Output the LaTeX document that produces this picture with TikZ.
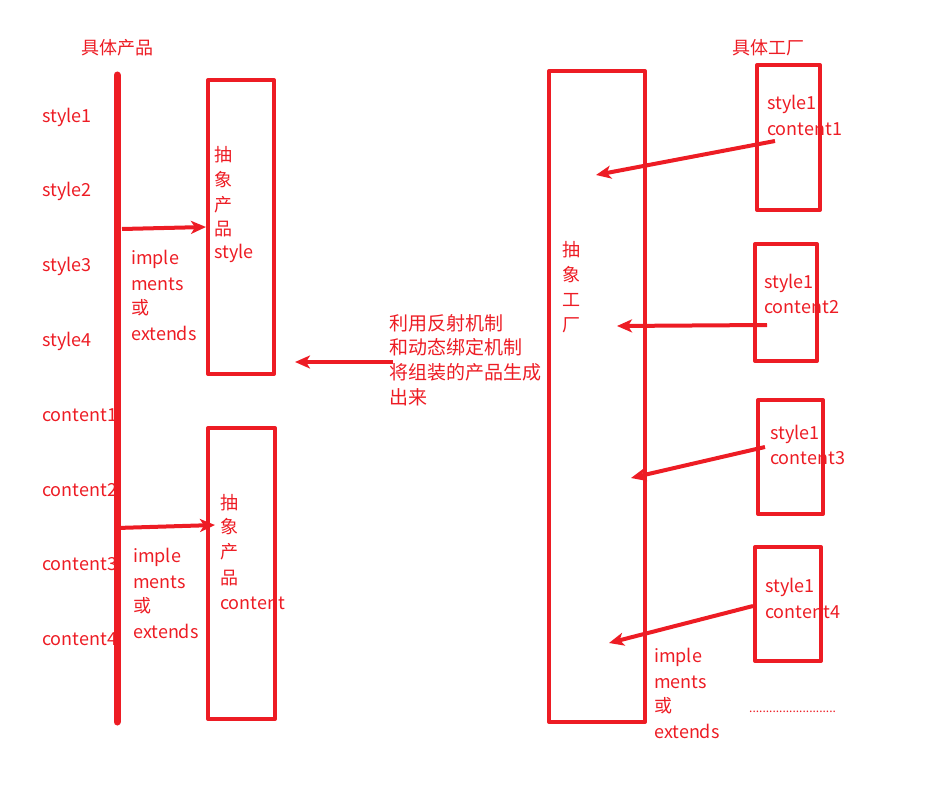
\documentclass[tikz,border=0pt]{standalone}
\usepackage{fontspec}
\setmainfont{Noto Sans CJK SC}
\usetikzlibrary{arrows.meta}
\definecolor{rd}{HTML}{ED1C24}
\tikzset{
  box/.style={draw=rd,line width=4pt,line join=round},
  arr/.style={draw=rd,line width=4pt,-{Stealth[length=15pt,width=13pt,inset=4pt]}},
  lbl/.style={text=rd,font=\fontsize{18}{18}\selectfont,inner sep=0pt,anchor=west},
  cjk/.style={lbl,font=\fontsize{19}{19}\selectfont},
}
\begin{document}
\begin{tikzpicture}[x=1pt,y=-1pt]
\useasboundingbox (0,0) rectangle (929,805);
% titles
\node[lbl,anchor=center] (t1) at (117,48) {具体产品};
\node[lbl,anchor=center] (t2) at (768,48) {具体工厂};
% thick vertical line
\coordinate (vtop) at (117,75);
\coordinate (vbot) at (117,722);
\draw[rd,line width=7pt,line cap=round] (vtop) -- (vbot);
% left labels
\foreach \t/\y [count=\i] in {style1/117,style2/191,style3/266,style4/341,content1/415,content2/490,content3/564,content4/639}
  \node[lbl] (l\i) at (42,\y) {\t};
% box 1
\draw[box] (208,80) rectangle (274,374);
\foreach \t/\y [count=\i] in {抽/155,象/180,产/205,品/229,style/253}
  \node[lbl] (a\i) at (214,\y) {\t};
% box 2
\draw[box] (208,428) rectangle (275,719);
\foreach \t/\y [count=\i] in {抽/503,象/527,产/552,品/578,content/603}
  \node[lbl] (b\i) at (220,\y) {\t};
% implements labels
\foreach \t/\y [count=\i] in {imple/259,ments/284,或/308,extends/333}
  \node[lbl] (i\i) at (131,\y) {\t};
\foreach \t/\y [count=\i] in {imple/557,ments/582,或/606,extends/631}
  \node[lbl] (j\i) at (133,\y) {\t};
\foreach \t/\y [count=\i] in {imple/657,ments/682,或/706,extends/731}
  \node[lbl] (k\i) at (654,\y) {\t};
% arrows left
\coordinate (p1s) at (122,229); \coordinate (p1e) at (206,227);
\draw[arr] (p1s) -- (p1e);
\coordinate (p2s) at (117,528); \coordinate (p2e) at (215,525);
\draw[arr] (p2s) -- (p2e);
% middle
\coordinate (ms) at (393,362); \coordinate (me) at (295,362);
\draw[arr] (ms) -- (me);
\foreach \t/\y [count=\i] in {利用反射机制/323,和动态绑定机制/347,将组装的产品生成/372,出来/397}
  \node[cjk] (m\i) at (389,\y) {\t};
% big box
\draw[box] (549,71) rectangle (645,722);
\foreach \t/\y [count=\i] in {抽/250,象/275,工/300,厂/325}
  \node[lbl] (c\i) at (562,\y) {\t};
% right boxes
\draw[box] (757,65) rectangle (820,210);
\node[lbl] (r1a) at (767,104) {style1};
\node[lbl] (r1b) at (767,129) {content1};
\draw[box] (755,244) rectangle (817,361);
\node[lbl] (r2a) at (764,283) {style1};
\node[lbl] (r2b) at (764,307) {content2};
\draw[box] (758,400) rectangle (823,514);
\node[lbl] (r3a) at (770,434) {style1};
\node[lbl] (r3b) at (770,458) {content3};
\draw[box] (755,547) rectangle (821,661);
\node[lbl] (r4a) at (765,587) {style1};
\node[lbl] (r4b) at (765,612) {content4};
% right arrows
\coordinate (q1s) at (775,141); \coordinate (q1e) at (596,175);
\draw[arr] (q1s) -- (q1e);
\coordinate (q2s) at (767,325); \coordinate (q2e) at (617,326);
\draw[arr] (q2s) -- (q2e);
\coordinate (q3s) at (765,447); \coordinate (q3e) at (631,478);
\draw[arr] (q3s) -- (q3e);
\coordinate (q4s) at (753,606); \coordinate (q4e) at (609,643);
\draw[arr] (q4s) -- (q4e);
% dots
\node[text=rd,font=\fontsize{12}{12}\selectfont,inner sep=0pt,anchor=west] (dots) at (749,712) {..........................};
\end{tikzpicture}
\end{document}
